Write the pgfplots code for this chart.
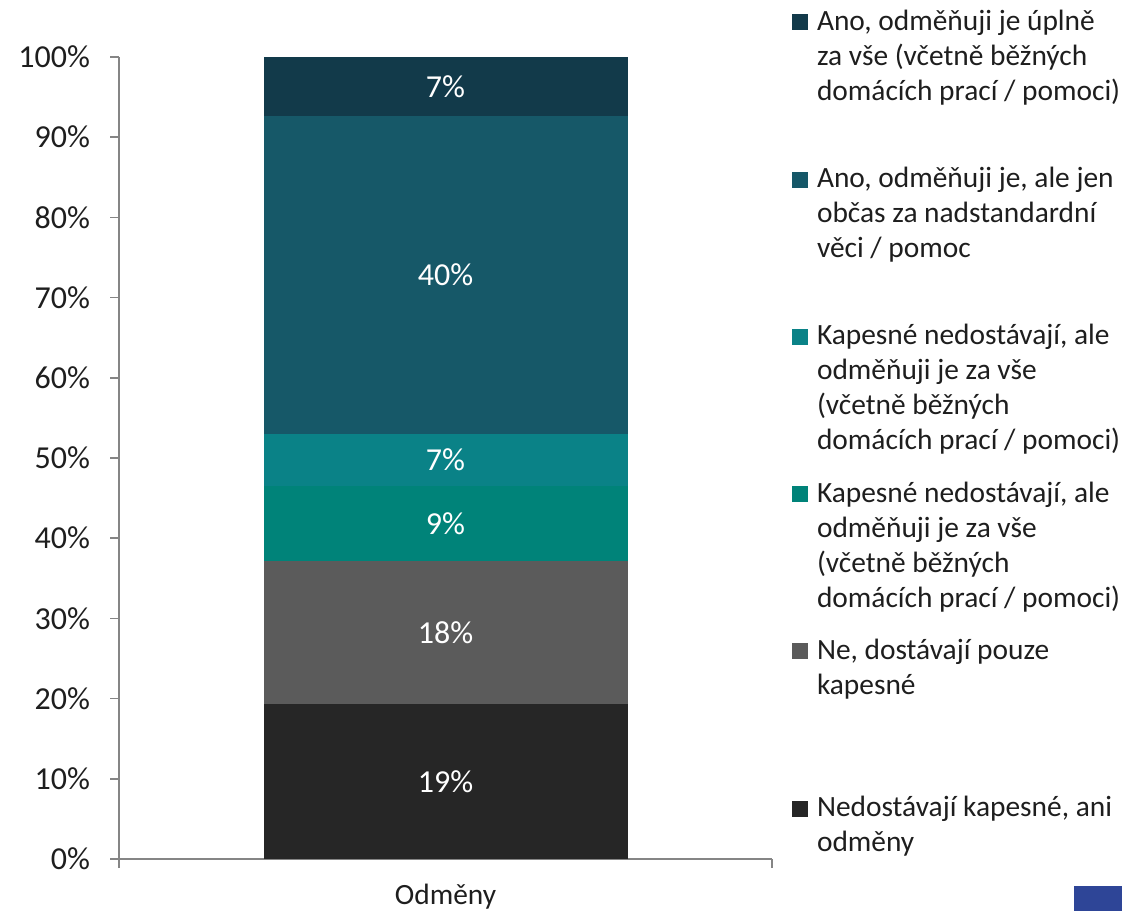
\documentclass[border=0pt]{standalone}
\usepackage{pgfplots}
\pgfplotsset{compat=1.18}
\usepackage{fontspec}
\setmainfont{Carlito}
\definecolor{c1}{HTML}{262626}
\definecolor{c2}{HTML}{5B5B5B}
\definecolor{c3}{HTML}{008379}
\definecolor{c4}{HTML}{0A8287}
\definecolor{c5}{HTML}{165868}
\definecolor{c6}{HTML}{123A4A}
\definecolor{axgray}{HTML}{858585}
\definecolor{txt}{HTML}{1E1E1E}
\definecolor{logo}{HTML}{2E4597}
\newcommand{\legtxt}[1]{\parbox[t]{170pt}{\fontsize{14.7}{17.5}\selectfont #1}}
\begin{document}
\begin{tikzpicture}
\useasboundingbox (0,0) rectangle (561pt,455.5pt);
\begin{axis}[
  at={(59.5pt,26pt)}, anchor=south west,
  scale only axis, width=326.5pt, height=401pt,
  ybar stacked, bar width=182pt,
  xmin=-0.5, xmax=0.5, ymin=0, ymax=100,
  axis x line*=bottom, axis y line*=left,
  axis line style={axgray, line width=0.8pt},
  every tick/.style={axgray, line width=0.8pt},
  tick align=outside, major tick length=4.5pt,
  xtick={-0.5,0.5}, xticklabels={},
  extra x ticks={0}, extra x tick labels={Odměny},
  extra x tick style={major tick length=0pt, xticklabel style={yshift=-9pt, font=\fontsize{14.7}{17}\selectfont}},
  ytick={0,10,...,100},
  yticklabel={\pgfmathprintnumber{\tick}\%},
  /pgf/number format/assume math mode=true,
  tick label style={font=\fontsize{16}{19}\selectfont, text=txt},
  yticklabel style={xshift=-6.5pt},
  legend image code/.code={\fill[#1] (0pt,0pt) rectangle (8pt,8pt); \path[draw=none,fill=none] (0pt,8pt) -- (0pt,-68.4pt);},
  reverse legend,
  legend style={draw=none, fill=none, inner sep=0pt, outer sep=0pt,
    at={(1.0306,1.0586)}, anchor=north west,
    column sep=4.5pt, row sep=0pt,
    nodes={inner sep=0pt, text=txt},
    cells={anchor=base west}},
  point meta=explicit symbolic,
  nodes near coords,
  every node near coord/.append style={text=white, anchor=center, font=\fontsize{16}{19}\selectfont},
]
\addplot[fill=c1, draw=none] coordinates {(0,19.3) [19\%]};
\addplot[fill=c2, draw=none] coordinates {(0,17.8) [18\%]};
\addplot[fill=c3, draw=none] coordinates {(0,9.4) [9\%]};
\addplot[fill=c4, draw=none] coordinates {(0,6.5) [7\%]};
\addplot[fill=c5, draw=none] coordinates {(0,39.6) [40\%]};
\addplot[fill=c6, draw=none] coordinates {(0,7.4) [7\%]};
\legend{
  \legtxt{Nedostávají kapesné, ani\\odměny},
  \legtxt{Ne, dostávají pouze\\kapesné},
  \legtxt{Kapesné nedostávají, ale\\odměňuji je za vše\\(včetně běžných\\domácích prací / pomoci)},
  \legtxt{Kapesné nedostávají, ale\\odměňuji je za vše\\(včetně běžných\\domácích prací / pomoci)},
  \legtxt{Ano, odměňuji je, ale jen\\občas za nadstandardní\\věci / pomoc},
  \legtxt{Ano, odměňuji je úplně\\za vše (včetně běžných\\domácích prací / pomoci)}
}
\end{axis}
\fill[logo] (537pt,0pt) rectangle (561pt,12.5pt);
\end{tikzpicture}
\end{document}
